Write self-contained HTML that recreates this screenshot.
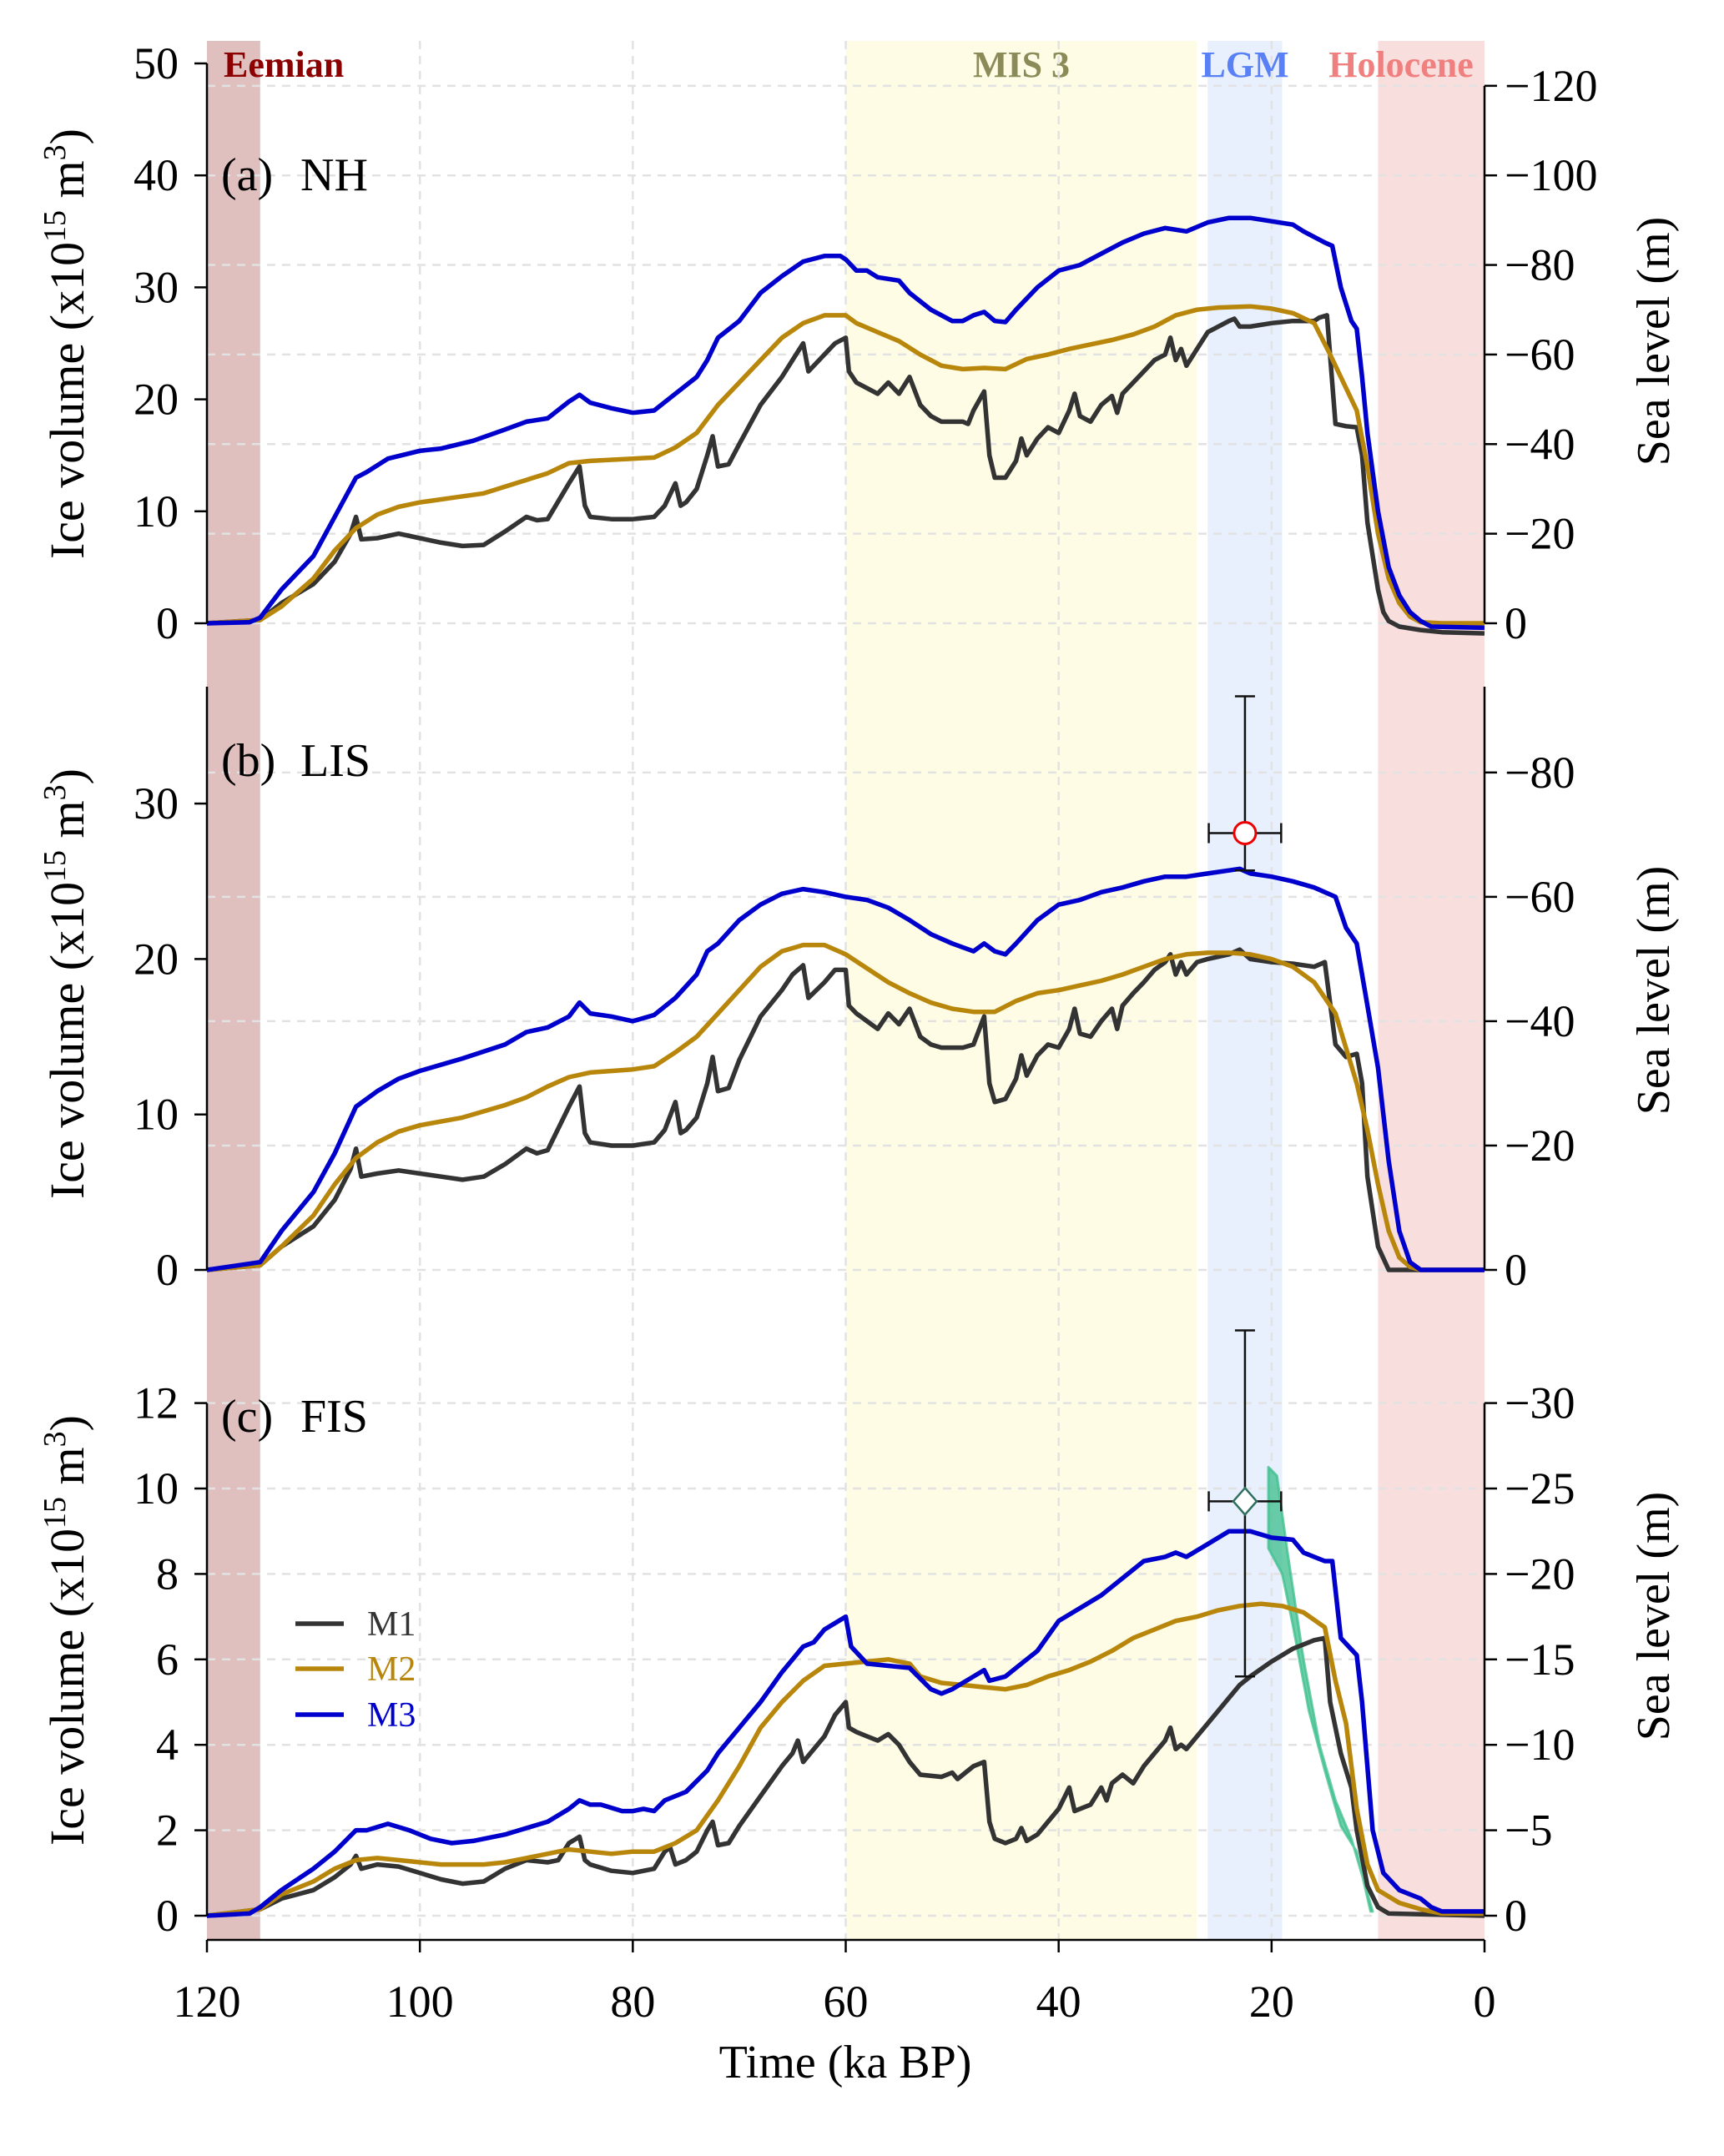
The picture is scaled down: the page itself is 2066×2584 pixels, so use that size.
<!DOCTYPE html>
<html><head><meta charset="utf-8"><style>
html,body{margin:0;padding:0;background:#fff;}
svg{display:block;font-family:"Liberation Serif","DejaVu Serif",serif;}
</style></head><body>
<svg id="chart" width="2066" height="2584" viewBox="0 0 2066 2584" xmlns="http://www.w3.org/2000/svg"></svg>
<script>
// ---------- DATA ----------
const xTicks = [120,100,80,60,40,20,0];
const periods = ["Eemian","MIS 3","LGM","Holocene"];
const periodStart = [120,60,26,10];
const periodEnd = [115,27,19,0];

const nhM1 = [[120,0],[115,0.3],[113,1.8],[110,3.5],[108,5.5],[106.5,8],[106,9.5],[105.5,7.5],[104,7.6],[102,8],[100,7.6],[98,7.2],[96,6.9],[94,7],[92,8.2],[90,9.5],[89,9.2],[88,9.3],[86,12.5],[85,14],[84.5,10.5],[84,9.5],[82,9.3],[80,9.3],[78,9.5],[77,10.5],[76,12.5],[75.5,10.5],[75,10.8],[74,12],[73,15],[72.5,16.7],[72,14],[71,14.2],[70,16],[68,19.5],[66,22],[65,23.5],[64,25],[63.5,22.5],[62,24],[61,25],[60,25.5],[59.7,22.5],[59,21.5],[58,21],[57,20.5],[56,21.5],[55,20.5],[54,22],[53,19.5],[52,18.5],[51,18],[49,18],[48.5,17.8],[48,19],[47,20.7],[46.5,15],[46,13],[45,13],[44,14.5],[43.5,16.5],[43,15],[42,16.5],[41,17.5],[40,17],[39,19],[38.5,20.5],[38,18.5],[37,18],[36,19.5],[35,20.3],[34.5,18.8],[34,20.5],[33,21.5],[32,22.5],[31,23.5],[30,24],[29.5,25.5],[29,23.5],[28.5,24.5],[28,23],[27,24.5],[26,26],[24,27],[23.5,27.2],[23,26.5],[22,26.5],[20,26.8],[18,27],[16,27],[15.5,27.3],[14.8,27.5],[14,17.8],[13,17.6],[12,17.5],[11.5,15],[11,9],[10,3],[9.5,1],[9,0.2],[8,-0.3],[6,-0.6],[4,-0.8],[0,-0.9]];
const nhM2 = [[120,0],[115,0.3],[113,1.5],[110,4],[108,6.5],[106,8.5],[104,9.7],[102,10.4],[100,10.8],[97,11.2],[94,11.6],[92,12.2],[90,12.8],[88,13.4],[86,14.3],[84,14.5],[80,14.7],[78,14.8],[76,15.7],[74,17],[72,19.5],[70,21.5],[68,23.5],[66,25.5],[64,26.8],[62,27.5],[60,27.5],[59,26.8],[57,26],[55,25.2],[53,24],[51,23],[49,22.7],[47,22.8],[45,22.7],[43,23.6],[41,24],[39,24.5],[37,24.9],[35,25.3],[33,25.8],[31,26.5],[29,27.5],[27,28],[25,28.2],[22,28.3],[20,28.1],[18,27.7],[16,26.8],[14.5,24],[13,21],[12,19],[11,14],[10,8],[9,4],[8,1.8],[7,0.6],[6,0.1],[4,0],[0,0]];
const nhM3 = [[120,0],[116,0.1],[115,0.5],[113,3],[110,6],[108,9.5],[106,13],[105,13.5],[103,14.7],[100,15.4],[98,15.6],[95,16.3],[92,17.3],[90,18],[88,18.3],[86,19.8],[85,20.4],[84,19.7],[82,19.2],[80,18.8],[78,19],[76,20.5],[74,22],[73,23.5],[72,25.5],[70,27],[68,29.5],[66,31],[64,32.3],[62,32.8],[60.5,32.8],[60,32.5],[59,31.5],[58,31.5],[57,30.9],[55,30.6],[54,29.5],[52,28],[50,27],[49,27],[48,27.5],[47,27.8],[46,27],[45,26.9],[44,28],[43,29],[42,30],[40,31.5],[38,32],[36,33],[34,34],[32,34.8],[30,35.3],[28,35],[26,35.8],[24,36.2],[22,36.2],[20,35.9],[18,35.6],[17,35],[15,34],[14.3,33.7],[13.5,30],[12.5,27],[12,26.3],[11.5,22],[11,17],[10,10],[9,5],[8,2.5],[7,1],[6,0.2],[5,-0.3],[0,-0.4]];

const lisM1 = [[120,0],[115,0.3],[113,1.5],[110,2.8],[108,4.5],[106.5,6.5],[106,7.8],[105.5,6],[104,6.2],[102,6.4],[100,6.2],[98,6],[96,5.8],[94,6],[92,6.8],[90,7.8],[89,7.5],[88,7.7],[86,10.5],[85,11.8],[84.5,8.8],[84,8.2],[82,8],[80,8],[78,8.2],[77,9],[76,10.8],[75.5,8.8],[75,9],[74,9.8],[73,12],[72.5,13.7],[72,11.5],[71,11.7],[70,13.5],[68,16.3],[66,18],[65,19],[64,19.6],[63.5,17.5],[62,18.5],[61,19.3],[60,19.3],[59.7,17],[59,16.5],[58,16],[57,15.5],[56,16.5],[55,15.8],[54,16.8],[53,15],[52,14.5],[51,14.3],[49,14.3],[48,14.5],[47,16.3],[46.5,12],[46,10.8],[45,11],[44,12.3],[43.5,13.8],[43,12.5],[42,13.8],[41,14.5],[40,14.3],[39,15.5],[38.5,16.8],[38,15.2],[37,15],[36,16],[35,16.8],[34.5,15.5],[34,17],[33,17.8],[32,18.5],[31,19.3],[30,19.8],[29.5,20.3],[29,19],[28.5,19.8],[28,19],[27,19.8],[26,20],[24,20.3],[23,20.6],[22,20],[20,19.8],[18,19.7],[16,19.5],[15,19.8],[14,14.5],[13,13.7],[12,13.9],[11.5,12],[11,6],[10,1.5],[9,0],[0,0]];
const lisM2 = [[120,0],[115,0.3],[113,1.5],[110,3.5],[108,5.5],[106,7.2],[104,8.2],[102,8.9],[100,9.3],[96,9.8],[92,10.6],[90,11.1],[88,11.8],[86,12.4],[84,12.7],[80,12.9],[78,13.1],[76,14],[74,15],[72,16.5],[70,18],[68,19.5],[66,20.5],[64,20.9],[62,20.9],[60,20.3],[58,19.4],[56,18.5],[54,17.8],[52,17.2],[50,16.8],[48,16.6],[46,16.6],[44,17.3],[42,17.8],[40,18],[38,18.3],[36,18.6],[34,19],[32,19.5],[30,20],[28,20.3],[26,20.4],[24,20.4],[22,20.3],[20,20],[18,19.5],[16,18.5],[14,16.5],[12,12],[11,9],[10,5.5],[9,2.5],[8,0.8],[7,0.2],[6,0],[0,0]];
const lisM3 = [[120,0],[115,0.5],[113,2.5],[110,5],[108,7.5],[106,10.5],[104,11.5],[102,12.3],[100,12.8],[96,13.6],[92,14.5],[90,15.3],[88,15.6],[86,16.3],[85,17.2],[84,16.5],[82,16.3],[80,16],[78,16.4],[76,17.5],[74,19],[73,20.5],[72,21],[70,22.5],[68,23.5],[66,24.2],[64,24.5],[62,24.3],[60,24],[58,23.8],[56,23.3],[54,22.5],[52,21.6],[50,21],[48,20.5],[47,21],[46,20.5],[45,20.3],[44,21],[42,22.5],[40,23.5],[38,23.8],[36,24.3],[34,24.6],[32,25],[30,25.3],[28,25.3],[26,25.5],[24,25.7],[23,25.8],[22,25.5],[20,25.3],[18,25],[16,24.6],[14,24],[13,22],[12,21],[11,17],[10,13],[9,7],[8,2.5],[7,0.5],[6,0],[0,0]];

const fisM1 = [[120,0],[115,0.15],[113,0.4],[110,0.6],[108,0.9],[106.5,1.2],[106,1.4],[105.5,1.1],[104,1.2],[102,1.15],[100,1],[98,0.85],[96,0.75],[94,0.8],[92,1.1],[90,1.3],[88,1.25],[87,1.3],[86,1.7],[85,1.85],[84.5,1.3],[84,1.2],[82,1.05],[80,1],[78,1.1],[77,1.5],[76.5,1.6],[76,1.2],[75,1.3],[74,1.5],[73,2],[72.5,2.2],[72,1.65],[71,1.7],[70,2.1],[68,2.8],[66,3.5],[65,3.8],[64.5,4.1],[64,3.6],[62,4.2],[61,4.7],[60,5],[59.7,4.4],[59,4.3],[58,4.2],[57,4.1],[56,4.25],[55,4],[54,3.6],[53,3.3],[51,3.25],[50,3.35],[49.5,3.2],[48,3.5],[47,3.6],[46.5,2.2],[46,1.8],[45,1.7],[44,1.8],[43.5,2.05],[43,1.75],[42,1.9],[41,2.2],[40,2.5],[39,3],[38.5,2.45],[37,2.6],[36,3],[35.5,2.7],[35,3.1],[34,3.3],[33,3.1],[32,3.5],[31,3.8],[30,4.1],[29.5,4.4],[29,3.9],[28.5,4],[28,3.9],[26,4.5],[24,5.1],[23,5.4],[22,5.6],[20,5.95],[18,6.25],[16,6.45],[15,6.5],[14.5,5],[13.5,3.8],[12.5,3],[12,2],[11,0.7],[10,0.2],[9,0.05],[0,0]];
const fisM2 = [[120,0],[115,0.15],[113,0.5],[110,0.8],[108,1.1],[106,1.3],[104,1.35],[102,1.3],[100,1.25],[98,1.2],[96,1.2],[94,1.2],[92,1.25],[90,1.35],[88,1.45],[86,1.55],[84,1.5],[82,1.45],[80,1.5],[78,1.5],[76,1.7],[74,2],[72,2.7],[70,3.5],[68,4.4],[66,5],[64,5.5],[62,5.85],[60,5.9],[58,5.95],[56,6],[54,5.9],[53,5.6],[51,5.45],[49,5.4],[47,5.35],[45,5.3],[43,5.4],[41,5.6],[39,5.75],[37,5.95],[35,6.2],[33,6.5],[31,6.7],[29,6.9],[27,7],[25,7.15],[23,7.25],[21,7.3],[19,7.25],[17,7.1],[15,6.75],[14,5.5],[13,4.5],[12,2.5],[11,1.2],[10,0.6],[8,0.3],[6,0.15],[4,0.05],[0,0.05]];
const fisM3 = [[120,0],[116,0.05],[115,0.2],[113,0.6],[110,1.1],[108,1.5],[106,2],[105,2],[103,2.15],[101,2],[99,1.8],[97,1.7],[95,1.75],[92,1.9],[90,2.05],[88,2.2],[86,2.5],[85,2.7],[84,2.6],[83,2.6],[81,2.45],[80,2.45],[79,2.5],[78,2.45],[77,2.7],[75,2.9],[73,3.4],[72,3.8],[70,4.4],[68,5],[66,5.7],[64,6.3],[63,6.4],[62,6.7],[60,7],[59.5,6.3],[58,5.9],[56,5.85],[54,5.8],[52,5.3],[51,5.2],[50,5.3],[48,5.6],[47,5.75],[46.5,5.5],[45,5.6],[44,5.8],[42,6.2],[40,6.9],[38,7.2],[36,7.5],[34,7.9],[32,8.3],[30,8.4],[29,8.5],[28,8.4],[26,8.7],[24,9],[22,9],[20,8.85],[18,8.8],[17,8.5],[15,8.3],[14.3,8.3],[13.5,6.5],[12,6.1],[11.5,5],[10.5,2],[9.5,1],[8,0.6],[6,0.4],[5,0.2],[4,0.1],[0,0.1]];

const reconT = [20.3,19.5,18.5,17,15.5,14,12.5,10.5];
const reconUpper = [10.5,10.3,8.5,6,4,2.7,1.8,0.1];
const reconLowerT = [20.3,19,18,16.5,15,13.5,12,10.7];
const reconLower = [8.6,8,6.8,4.8,3.4,2.1,1.5,0.1];

const lisObs = [22.5, 28.1]; const lisObsXerr = 3.4; const lisObsYup = 8.8; const lisObsYdn = 2.4;
const fisObs = [22.5, 9.7]; const fisObsXerr = 3.4; const fisObsYup = 4.0; const fisObsYdn = 4.1;

const nhLeftTicks = [0,10,20,30,40,50];
const nhRightTicks = [0,-20,-40,-60,-80,-100,-120];
const lisLeftTicks = [0,10,20,30];
const lisRightTicks = [0,-20,-40,-60,-80];
const fisLeftTicks = [0,2,4,6,8,10,12];
const fisRightTicks = [0,-5,-10,-15,-20,-25,-30];
const legendLabels = ["M1","M2","M3"];

// ---------- LAYOUT ----------
const NS="http://www.w3.org/2000/svg";
const svg=document.getElementById('chart');
const XL=248, XR=1779, TOP=49, BOT=2325;
const x = t => XR - (XR-XL)*t/120;
const colors={M1:"#333333",M2:"#b8860b",M3:"#0000cd"};
const LW=5.5, FS=54;
function mk(tag,attrs,parent){const e=document.createElementNS(NS,tag);for(const k in attrs)e.setAttribute(k,attrs[k]);(parent||svg).appendChild(e);return e;}

const panels=[
 {id:"nh",label:"(a)",name:"NH",y0:747,k:13.42,spTop:76,spRTop:747-13.42*48,lt:nhLeftTicks,rt:nhRightTicks,series:[nhM1,nhM2,nhM3],lab:228,ylc:412,yrc:409},
 {id:"lis",label:"(b)",name:"LIS",y0:1522,k:18.63,spTop:823,spRTop:823,lt:lisLeftTicks,rt:lisRightTicks,series:[lisM1,lisM2,lisM3],lab:930,ylc:1179,yrc:1187},
 {id:"fis",label:"(c)",name:"FIS",y0:2296,k:51.2,spTop:2296-51.2*12,spRTop:2296-51.2*12,lt:fisLeftTicks,rt:fisRightTicks,series:[fisM1,fisM2,fisM3],lab:1716,ylc:1954,yrc:1937}
];

const bandFill=["#e0bfbf","#fefce4","#e8effd","#f9dede"];
const bandText=["#8b0000","#8b8b5a","#5a80f5","#f08080"];
const bandTx=[268,1224,1492,1679];
for(let i=0;i<periods.length;i++){
  const r=mk('rect',{x:x(periodStart[i]),y:TOP,width:x(periodEnd[i])-x(periodStart[i]),height:BOT-TOP,fill:bandFill[i]});
  
  
  const t=mk('text',{x:bandTx[i],y:92,fill:bandText[i],'font-size':44,'font-weight':'bold','text-anchor':i==0?'start':'middle'});
  t.textContent=periods[i];
  
  
}
for(const t of [100,80,60,40,20]){
  const l=mk('line',{x1:x(t),x2:x(t),y1:TOP,y2:BOT,stroke:"#e2e2e2",'stroke-width':2.5,'stroke-dasharray':'10,8'});
  
  
}

panels.forEach(p=>{
  const y=v=>p.y0-p.k*v;
  const g=mk('g',{});
  
  
  p.rt.forEach(s=>{
    const l=mk('line',{x1:XL,x2:XR,y1:y(-s/2.5),y2:y(-s/2.5),stroke:"#e2e2e2",'stroke-width':2.5,'stroke-dasharray':'10,8'},g);
    
    
  });
  if(p.id==="fis"){
    let pts=[];
    for(let i=0;i<reconT.length;i++)pts.push(x(reconT[i])+","+y(reconUpper[i]));
    for(let i=reconLowerT.length-1;i>=0;i--)pts.push(x(reconLowerT[i])+","+y(reconLower[i]));
    const pg=mk('polygon',{points:pts.join(' '),fill:"#3cbf8c",'fill-opacity':0.75,stroke:"#3cbf8c",'stroke-opacity':0.75,'stroke-width':3,'stroke-linejoin':'round'},g);
    
    
  }
  ["M1","M2","M3"].forEach((nm,i)=>{
    const d=p.series[i].map((q,j)=>(j?'L':'M')+x(q[0]).toFixed(1)+','+y(q[1]).toFixed(1)).join(' ');
    const pa=mk('path',{d:d,fill:'none',stroke:colors[nm],'stroke-width':LW,'stroke-linejoin':'round'},g);
    
    
  });
  const obs = p.id==="lis"?{c:lisObs,xe:lisObsXerr,up:lisObsYup,dn:lisObsYdn}:p.id==="fis"?{c:fisObs,xe:fisObsXerr,up:fisObsYup,dn:fisObsYdn}:null;
  if(obs){
    const cx=x(obs.c[0]),cy=y(obs.c[1]);
    const eb=mk('g',{stroke:'#111','stroke-width':2.5},g);
    
    
    mk('line',{x1:cx,x2:cx,y1:y(obs.c[1]+obs.up),y2:y(obs.c[1]-obs.dn)},eb);
    mk('line',{x1:x(obs.c[0]+obs.xe),x2:x(obs.c[0]-obs.xe),y1:cy,y2:cy},eb);
    mk('line',{x1:cx-12,x2:cx+12,y1:y(obs.c[1]+obs.up),y2:y(obs.c[1]+obs.up)},eb);
    mk('line',{x1:cx-12,x2:cx+12,y1:y(obs.c[1]-obs.dn),y2:y(obs.c[1]-obs.dn)},eb);
    mk('line',{x1:x(obs.c[0]+obs.xe),x2:x(obs.c[0]+obs.xe),y1:cy-12,y2:cy+12},eb);
    mk('line',{x1:x(obs.c[0]-obs.xe),x2:x(obs.c[0]-obs.xe),y1:cy-12,y2:cy+12},eb);
    let mkr;
    if(p.id==="lis") mkr=mk('circle',{cx:cx,cy:cy,r:13,fill:'#fff',stroke:'#ee0000','stroke-width':3},g);
    else mkr=mk('polygon',{points:`${cx},${cy-16} ${cx+14},${cy} ${cx},${cy+16} ${cx-14},${cy}`,fill:'#fff',stroke:'#2f6f5f','stroke-width':2.5},g);
    
    
  }
  const ls=mk('line',{x1:XL,x2:XL,y1:p.spTop,y2:y(0),stroke:'#000','stroke-width':2.5},g);
  
  
  const rs=mk('line',{x1:XR,x2:XR,y1:p.spRTop,y2:y(0),stroke:'#000','stroke-width':2.5},g);
  
  
  p.lt.forEach(v=>{
    mk('line',{x1:XL-15,x2:XL,y1:y(v),y2:y(v),stroke:'#000','stroke-width':2.5},g);
    const t=mk('text',{x:214,y:y(v)+18,'font-size':FS,'text-anchor':'end'},g);
    t.textContent=v;
    
    
  });
  p.rt.forEach(s=>{
    const yy=y(-s/2.5);
    mk('line',{x1:XR,x2:XR+15,y1:yy,y2:yy,stroke:'#000','stroke-width':2.5},g);
    const t=mk('text',{x:1803,y:yy+18,'font-size':FS},g);
    t.textContent=s===0?"0":"\u2212"+Math.abs(s);
    
    
  });
  const pl=mk('text',{x:265,y:p.lab,'font-size':56},g);
  pl.textContent=p.label;
  
  
  const pn=mk('text',{x:360,y:p.lab,'font-size':56},g);
  pn.textContent=p.name;
  
  
  const yl=mk('text',{transform:`translate(100,${p.ylc}) rotate(-90)`,'text-anchor':'middle','font-size':58},g);
  yl.innerHTML='Ice volume (x10<tspan font-size="38" dy="-22">15</tspan><tspan dy="22"> m</tspan><tspan font-size="38" dy="-22">3</tspan><tspan dy="22">)</tspan>';
  
  
  const yr=mk('text',{transform:`translate(2000,${p.yrc}) rotate(-90)`,'text-anchor':'middle','font-size':56},g);
  yr.textContent='Sea level (m)';
  
  
});

const xa=mk('line',{x1:XL,x2:XR,y1:BOT,y2:BOT,stroke:'#000','stroke-width':2.5});


xTicks.forEach(t=>{
  mk('line',{x1:x(t),x2:x(t),y1:BOT,y2:BOT+15,stroke:'#000','stroke-width':2.5});
  const tl=mk('text',{x:x(t),y:2417,'font-size':FS,'text-anchor':'middle'});
  tl.textContent=t;
  
  
});
const xt=mk('text',{x:1013,y:2490,'font-size':56,'text-anchor':'middle'});
xt.textContent='Time (ka BP)';



const legY=[1946,2000,2055];
legendLabels.forEach((nm,i)=>{
  const lg=mk('g',{});
  
  
  mk('line',{x1:354,x2:412,y1:legY[i],y2:legY[i],stroke:colors[nm],'stroke-width':LW},lg);
  const t=mk('text',{x:440,y:legY[i]+14,'font-size':42,fill:colors[nm]},lg);
  t.textContent=nm;
});
</script>
</body></html>
